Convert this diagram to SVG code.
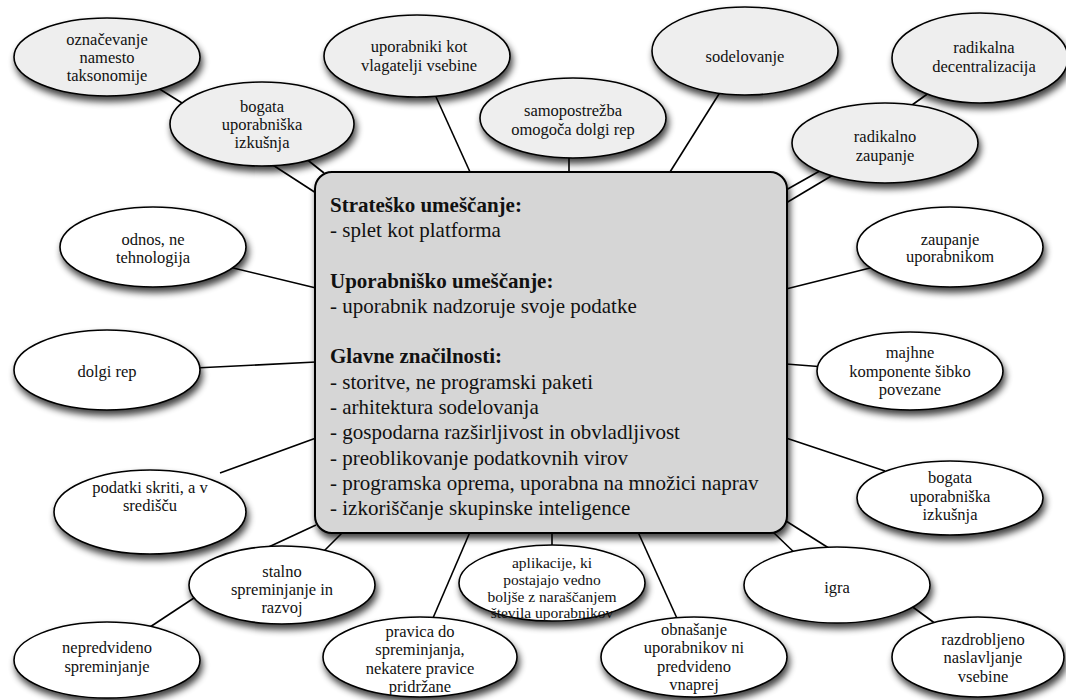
<svg xmlns="http://www.w3.org/2000/svg" width="1066" height="700" viewBox="0 0 1066 700" font-family="'Liberation Serif', 'Times New Roman', Times, 'DejaVu Serif', serif">
  <style>
    .bg { fill: #ffffff; }
    .link { stroke: #000; stroke-width: 1.6; fill: none; }
    .node ellipse { stroke: #000; stroke-width: 1.6; filter: url(#shadow); }
    .gray ellipse { fill: #eeeeee; }
    .white ellipse { fill: #ffffff; }
    text { font-family: 'Liberation Serif', 'Times New Roman', Times, 'DejaVu Serif', serif; }
    .node text { font-size: 16.5px; fill: #111; text-anchor: middle; }
    .small text { font-size: 15.5px; }
    #hub rect { fill: #d6d6d6; stroke: #000; stroke-width: 2; filter: url(#shadow); }
    #hub text { font-size: 21px; fill: #111; }
    #hub .h { font-weight: bold; }
  </style>
  <defs>
    <filter id="shadow" x="-20%" y="-20%" width="140%" height="150%">
      <feGaussianBlur in="SourceAlpha" stdDeviation="3.5"/>
      <feOffset dx="2" dy="5" result="b"/>
      <feComponentTransfer><feFuncA type="linear" slope="0.75"/></feComponentTransfer>
      <feMerge><feMergeNode/><feMergeNode in="SourceGraphic"/></feMerge>
    </filter>
  </defs>
  <rect class="bg" width="1066" height="700"/>

  <g id="connectors">
    <line class="link" x1="150" y1="83" x2="190" y2="108"/>
    <line class="link" x1="300" y1="154" x2="324" y2="173"/>
    <line class="link" x1="262" y1="158" x2="316" y2="193"/>
    <line class="link" x1="432" y1="88" x2="470" y2="172"/>
    <line class="link" x1="569" y1="150" x2="569" y2="172"/>
    <line class="link" x1="724" y1="86" x2="670" y2="172"/>
    <line class="link" x1="940" y1="85" x2="905" y2="110"/>
    <line class="link" x1="825" y1="168" x2="786" y2="190"/>
    <line class="link" x1="838" y1="172" x2="786" y2="203"/>
    <line class="link" x1="225" y1="266" x2="316" y2="288"/>
    <line class="link" x1="878" y1="266" x2="786" y2="289"/>
    <line class="link" x1="195" y1="368" x2="316" y2="362"/>
    <line class="link" x1="825" y1="367" x2="786" y2="364"/>
    <line class="link" x1="220" y1="473" x2="316" y2="438"/>
    <line class="link" x1="885" y1="471" x2="786" y2="438"/>
    <line class="link" x1="260" y1="551" x2="316" y2="525"/>
    <line class="link" x1="320" y1="555" x2="343" y2="532"/>
    <line class="link" x1="200" y1="594" x2="150" y2="627"/>
    <line class="link" x1="430" y1="625" x2="470" y2="532"/>
    <line class="link" x1="552" y1="550" x2="552" y2="532"/>
    <line class="link" x1="680" y1="625" x2="638" y2="532"/>
    <line class="link" x1="800" y1="558" x2="773" y2="532"/>
    <line class="link" x1="835" y1="552" x2="786" y2="521"/>
    <line class="link" x1="910" y1="605" x2="940" y2="627"/>
  </g>

  <g id="hub">
    <rect x="315" y="172" width="472" height="361" rx="17" ry="17"/>
    <text x="330" y="212" class="h">Strateško umeščanje:</text>
    <text x="330" y="237">- splet kot platforma</text>
    <text x="330" y="288" class="h">Uporabniško umeščanje:</text>
    <text x="330" y="313">- uporabnik nadzoruje svoje podatke</text>
    <text x="330" y="363" class="h">Glavne značilnosti:</text>
    <text x="330" y="389">- storitve, ne programski paketi</text>
    <text x="330" y="414">- arhitektura sodelovanja</text>
    <text x="330" y="439">- gospodarna razširljivost in obvladljivost</text>
    <text x="330" y="465">- preoblikovanje podatkovnih virov</text>
    <text x="330" y="490">- programska oprema, uporabna na množici naprav</text>
    <text x="330" y="515">- izkoriščanje skupinske inteligence</text>
  </g>

  <g id="n-oznacevanje" class="node gray">
    <ellipse cx="107" cy="57" rx="93" ry="39"/>
    <text x="107" y="45">označevanje</text>
    <text x="107" y="63">namesto</text>
    <text x="107" y="81">taksonomije</text>
  </g>
  <g id="n-bogata-top" class="node gray">
    <ellipse cx="262" cy="124" rx="92" ry="42"/>
    <text x="262" y="112">bogata</text>
    <text x="262" y="130">uporabniška</text>
    <text x="262" y="148">izkušnja</text>
  </g>
  <g id="n-uporabniki" class="node gray">
    <ellipse cx="417" cy="56" rx="93" ry="41"/>
    <text x="419" y="52">uporabniki kot</text>
    <text x="419" y="71">vlagatelji vsebine</text>
  </g>
  <g id="n-samopostrezba" class="node gray">
    <ellipse cx="573" cy="118" rx="93" ry="40"/>
    <text x="573" y="116">samopostrežba</text>
    <text x="573" y="135">omogoča dolgi rep</text>
  </g>
  <g id="n-sodelovanje" class="node gray">
    <ellipse cx="745" cy="51" rx="93" ry="44"/>
    <text x="745" y="62">sodelovanje</text>
  </g>
  <g id="n-decentralizacija" class="node gray">
    <ellipse cx="980" cy="58" rx="88" ry="45"/>
    <text x="984" y="53">radikalna</text>
    <text x="984" y="72">decentralizacija</text>
  </g>
  <g id="n-radikalno" class="node gray">
    <ellipse cx="885" cy="143" rx="93" ry="40"/>
    <text x="885" y="142">radikalno</text>
    <text x="885" y="161">zaupanje</text>
  </g>
  <g id="n-odnos" class="node white">
    <ellipse cx="153" cy="247" rx="93" ry="40"/>
    <text x="153" y="245">odnos, ne</text>
    <text x="153" y="263">tehnologija</text>
  </g>
  <g id="n-dolgi-rep" class="node white">
    <ellipse cx="107" cy="370" rx="93" ry="40"/>
    <text x="107" y="377">dolgi rep</text>
  </g>
  <g id="n-podatki" class="node white">
    <ellipse cx="150" cy="512" rx="96" ry="42"/>
    <text x="150" y="493">podatki skriti, a v</text>
    <text x="150" y="511">središču</text>
  </g>
  <g id="n-stalno" class="node white">
    <ellipse cx="282" cy="585" rx="93" ry="39"/>
    <text x="282" y="577">stalno</text>
    <text x="282" y="595">spreminjanje in</text>
    <text x="282" y="613">razvoj</text>
  </g>
  <g id="n-nepredvideno" class="node white">
    <ellipse cx="107" cy="660" rx="93" ry="38"/>
    <text x="107" y="653">nepredvideno</text>
    <text x="107" y="672">spreminjanje</text>
  </g>
  <g id="n-pravica" class="node white">
    <ellipse cx="420" cy="657" rx="97" ry="40"/>
    <text x="420" y="637">pravica do</text>
    <text x="420" y="655">spreminjanja,</text>
    <text x="420" y="674">nekatere pravice</text>
    <text x="420" y="692">pridržane</text>
  </g>
  <g id="n-aplikacije" class="node white small">
    <ellipse cx="552" cy="583" rx="93" ry="38"/>
    <text x="552" y="568">aplikacije, ki</text>
    <text x="552" y="585">postajajo vedno</text>
    <text x="552" y="602">boljše z naraščanjem</text>
    <text x="552" y="618">števila uporabnikov</text>
  </g>
  <g id="n-obnasanje" class="node white">
    <ellipse cx="694" cy="657" rx="93" ry="40"/>
    <text x="694" y="635">obnašanje</text>
    <text x="694" y="653">uporabnikov ni</text>
    <text x="694" y="672">predvideno</text>
    <text x="694" y="690">vnaprej</text>
  </g>
  <g id="n-igra" class="node white">
    <ellipse cx="837" cy="585" rx="93" ry="38"/>
    <text x="837" y="593">igra</text>
  </g>
  <g id="n-razdrobljeno" class="node white">
    <ellipse cx="978" cy="657" rx="86" ry="40"/>
    <text x="983" y="645">razdrobljeno</text>
    <text x="983" y="663">naslavljanje</text>
    <text x="983" y="682">vsebine</text>
  </g>
  <g id="n-bogata-right" class="node white">
    <ellipse cx="950" cy="498" rx="93" ry="37"/>
    <text x="950" y="483">bogata</text>
    <text x="950" y="502">uporabniška</text>
    <text x="950" y="520">izkušnja</text>
  </g>
  <g id="n-zaupanje" class="node white">
    <ellipse cx="950" cy="247" rx="93" ry="40"/>
    <text x="950" y="245">zaupanje</text>
    <text x="950" y="262">uporabnikom</text>
  </g>
  <g id="n-majhne" class="node white">
    <ellipse cx="910" cy="371" rx="93" ry="39"/>
    <text x="910" y="358">majhne</text>
    <text x="910" y="377">komponente šibko</text>
    <text x="910" y="395">povezane</text>
  </g>
</svg>
